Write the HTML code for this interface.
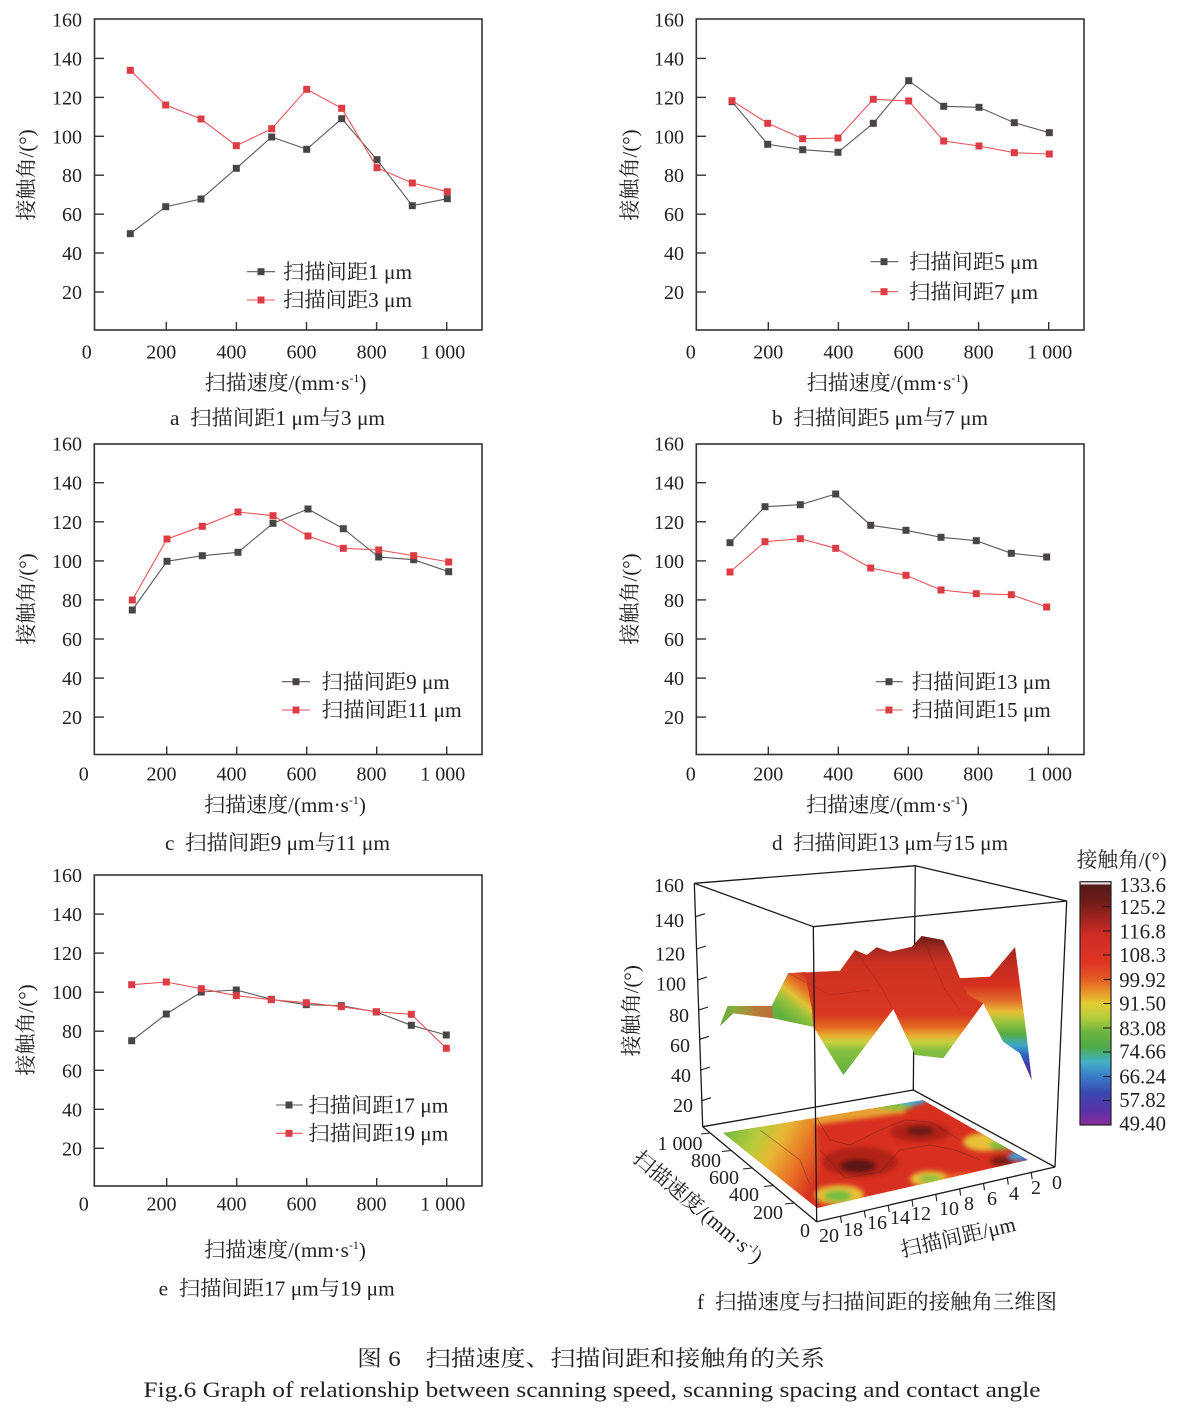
<!DOCTYPE html>
<html><head><meta charset="utf-8"><style>
html,body{margin:0;padding:0;background:#fff;}
svg{display:block;}
text{white-space:pre;}
</style></head><body>
<svg width="1184" height="1418" viewBox="0 0 1184 1418" xmlns="http://www.w3.org/2000/svg" font-family="'Liberation Serif','Noto Serif CJK SC',serif" fill="#222">
<defs>
<rect id="mg" x="-3.5" y="-3.5" width="7" height="7" fill="#4a4545"/>
<rect id="mr" x="-3.5" y="-3.5" width="7" height="7" fill="#dc3c44"/>
<linearGradient id="cb" x1="0" y1="0" x2="0" y2="1">
<stop offset="0" stop-color="#4e1a1a"/><stop offset="0.08" stop-color="#6e1c18"/><stop offset="0.15" stop-color="#a02420"/><stop offset="0.22" stop-color="#d02c24"/><stop offset="0.33" stop-color="#de3426"/><stop offset="0.40" stop-color="#e45a24"/><stop offset="0.45" stop-color="#e8902a"/><stop offset="0.50" stop-color="#e4cc34"/><stop offset="0.56" stop-color="#b4cc3c"/><stop offset="0.62" stop-color="#6cb440"/><stop offset="0.68" stop-color="#4eaa48"/><stop offset="0.74" stop-color="#44b0c8"/><stop offset="0.80" stop-color="#3a7cc8"/><stop offset="0.87" stop-color="#3a46b0"/><stop offset="0.94" stop-color="#5a32a8"/><stop offset="1" stop-color="#8a2a9a"/>
</linearGradient>
<linearGradient id="gm" gradientUnits="userSpaceOnUse" x1="0" y1="936" x2="0" y2="1078">
<stop offset="0" stop-color="#6a1c14"/><stop offset="0.085" stop-color="#a02820"/><stop offset="0.183" stop-color="#cc3020"/><stop offset="0.556" stop-color="#d83822"/><stop offset="0.64" stop-color="#e36a22"/><stop offset="0.704" stop-color="#e8b032"/><stop offset="0.746" stop-color="#c8d040"/><stop offset="0.803" stop-color="#88c040"/><stop offset="1" stop-color="#5caa3c"/>
</linearGradient>
<linearGradient id="gr" gradientUnits="userSpaceOnUse" x1="0" y1="947" x2="0" y2="1080">
<stop offset="0" stop-color="#a82820"/><stop offset="0.286" stop-color="#d83020"/><stop offset="0.398" stop-color="#e06828"/><stop offset="0.489" stop-color="#e8c038"/><stop offset="0.564" stop-color="#98c440"/><stop offset="0.654" stop-color="#58ac40"/><stop offset="0.737" stop-color="#40a8c8"/><stop offset="0.812" stop-color="#3064c0"/><stop offset="0.91" stop-color="#4a32a8"/><stop offset="1" stop-color="#7a2c9c"/>
</linearGradient>
<linearGradient id="gl" gradientUnits="userSpaceOnUse" x1="720" y1="0" x2="773" y2="0">
<stop offset="0" stop-color="#5cae3c"/><stop offset="0.3" stop-color="#8ca83c"/><stop offset="0.7" stop-color="#b87a3a"/><stop offset="1" stop-color="#b8703a"/>
</linearGradient>
<linearGradient id="gs" gradientUnits="userSpaceOnUse" x1="778" y1="1012" x2="806" y2="976">
<stop offset="0" stop-color="#64b040"/><stop offset="0.3" stop-color="#98c23c"/><stop offset="0.5" stop-color="#e0c436"/><stop offset="0.72" stop-color="#e67a28"/><stop offset="1" stop-color="#d43422"/>
</linearGradient>
<linearGradient id="gf" gradientUnits="userSpaceOnUse" x1="725" y1="1128" x2="818" y2="1180">
<stop offset="0" stop-color="#70b840"/><stop offset="0.3" stop-color="#b8cc3c"/><stop offset="0.5" stop-color="#e8b834"/><stop offset="0.75" stop-color="#e87428"/><stop offset="1" stop-color="#d83020"/>
</linearGradient>
<clipPath id="fc"><polygon points="723,1133 923,1100 1028,1160 817,1208"/></clipPath>
<filter id="bl" x="-10%" y="-10%" width="120%" height="120%"><feGaussianBlur stdDeviation="2.5"/></filter>
</defs>

<!-- ============ Panel a ============ -->
<g>
<rect x="94.5" y="19" width="387.5" height="311" fill="none" stroke="#333" stroke-width="1.6"/>
<g stroke="#333" stroke-width="1.4">
<line x1="94.5" y1="292" x2="104" y2="292"/><line x1="94.5" y1="253" x2="104" y2="253"/><line x1="94.5" y1="214.2" x2="104" y2="214.2"/><line x1="94.5" y1="175.2" x2="104" y2="175.2"/><line x1="94.5" y1="136.3" x2="104" y2="136.3"/><line x1="94.5" y1="97.4" x2="104" y2="97.4"/><line x1="94.5" y1="58.4" x2="104" y2="58.4"/>
<line x1="166.3" y1="330" x2="166.3" y2="322"/><line x1="236.4" y1="330" x2="236.4" y2="322"/><line x1="306.5" y1="330" x2="306.5" y2="322"/><line x1="376.6" y1="330" x2="376.6" y2="322"/><line x1="446.7" y1="330" x2="446.7" y2="322"/>
</g>
<g font-size="20" text-anchor="end">
<text x="82" y="26.5">160</text><text x="82" y="65.4">140</text><text x="82" y="104.4">120</text><text x="82" y="143.3">100</text><text x="82" y="182.2">80</text><text x="82" y="221.2">60</text><text x="82" y="260">40</text><text x="82" y="299">20</text>
</g>
<g font-size="20" text-anchor="middle">
<text x="86.7" y="358.7">0</text><text x="161.3" y="358.7">200</text><text x="231.4" y="358.7">400</text><text x="301.5" y="358.7">600</text><text x="371.6" y="358.7">800</text><text x="442.7" y="358.7">1 000</text>
</g>
<polyline fill="none" stroke="#5a5a5a" stroke-width="1.1" points="130.3,233.7 165.7,206.7 201,199 236.3,168.3 271.7,137 306.7,149.3 341.7,118.7 377,159.7 412.3,205.7 447.3,198.7"/>
<use href="#mg" x="130.3" y="233.7"/><use href="#mg" x="165.7" y="206.7"/><use href="#mg" x="201" y="199"/><use href="#mg" x="236.3" y="168.3"/><use href="#mg" x="271.7" y="137"/><use href="#mg" x="306.7" y="149.3"/><use href="#mg" x="341.7" y="118.7"/><use href="#mg" x="377" y="159.7"/><use href="#mg" x="412.3" y="205.7"/><use href="#mg" x="447.3" y="198.7"/>
<polyline fill="none" stroke="#e8555a" stroke-width="1.1" points="130.3,70.3 165.7,105 201,119 236.3,145.7 271.7,128.7 306.7,89.3 341.7,108.3 377,167.7 412.3,183 447.3,191.7"/>
<use href="#mr" x="130.3" y="70.3"/><use href="#mr" x="165.7" y="105"/><use href="#mr" x="201" y="119"/><use href="#mr" x="236.3" y="145.7"/><use href="#mr" x="271.7" y="128.7"/><use href="#mr" x="306.7" y="89.3"/><use href="#mr" x="341.7" y="108.3"/><use href="#mr" x="377" y="167.7"/><use href="#mr" x="412.3" y="183"/><use href="#mr" x="447.3" y="191.7"/>
<line x1="247" y1="271.7" x2="275" y2="271.7" stroke="#5a5a5a" stroke-width="1.1"/><use href="#mg" x="261" y="271.7"/>
<line x1="247" y1="300" x2="275" y2="300" stroke="#e8555a" stroke-width="1.1"/><use href="#mr" x="261" y="300"/>
<text x="283" y="279" font-size="21" textLength="129" lengthAdjust="spacingAndGlyphs">扫描间距1 μm</text>
<text x="283" y="307" font-size="21" textLength="129" lengthAdjust="spacingAndGlyphs">扫描间距3 μm</text>
<text transform="translate(26.7,175) rotate(-90)" x="0" y="7" font-size="21" text-anchor="middle">接触角/(°)</text>
<text x="285.5" y="390" font-size="21" text-anchor="middle">扫描速度/(mm·s<tspan dy="-8" font-size="12">-1</tspan><tspan dy="8">)</tspan></text>
<text x="277.5" y="425" font-size="21" text-anchor="middle" textLength="215" lengthAdjust="spacingAndGlyphs">a  扫描间距1 μm与3 μm</text>
</g>

<!-- ============ Panel b ============ -->
<g>
<rect x="696.3" y="19" width="387.7" height="311" fill="none" stroke="#333" stroke-width="1.6"/>
<g stroke="#333" stroke-width="1.4">
<line x1="696.3" y1="292" x2="706" y2="292"/><line x1="696.3" y1="253" x2="706" y2="253"/><line x1="696.3" y1="214.2" x2="706" y2="214.2"/><line x1="696.3" y1="175.2" x2="706" y2="175.2"/><line x1="696.3" y1="136.3" x2="706" y2="136.3"/><line x1="696.3" y1="97.4" x2="706" y2="97.4"/><line x1="696.3" y1="58.4" x2="706" y2="58.4"/>
<line x1="768.3" y1="330" x2="768.3" y2="322"/><line x1="838.4" y1="330" x2="838.4" y2="322"/><line x1="908.5" y1="330" x2="908.5" y2="322"/><line x1="978.6" y1="330" x2="978.6" y2="322"/><line x1="1048.7" y1="330" x2="1048.7" y2="322"/>
</g>
<g font-size="20" text-anchor="end">
<text x="684" y="26.5">160</text><text x="684" y="65.4">140</text><text x="684" y="104.4">120</text><text x="684" y="143.3">100</text><text x="684" y="182.2">80</text><text x="684" y="221.2">60</text><text x="684" y="260">40</text><text x="684" y="299">20</text>
</g>
<g font-size="20" text-anchor="middle">
<text x="690.8" y="358.7">0</text><text x="768.3" y="358.7">200</text><text x="838.4" y="358.7">400</text><text x="908.5" y="358.7">600</text><text x="978.6" y="358.7">800</text><text x="1049.7" y="358.7">1 000</text>
</g>
<polyline fill="none" stroke="#5a5a5a" stroke-width="1.1" points="732,101.7 767.7,144.3 802.7,149.7 838,152.3 873.3,123.3 908.7,80.7 943.7,106.3 979,107.3 1014.3,122.7 1049.3,132.7"/>
<use href="#mg" x="732" y="101.7"/><use href="#mg" x="767.7" y="144.3"/><use href="#mg" x="802.7" y="149.7"/><use href="#mg" x="838" y="152.3"/><use href="#mg" x="873.3" y="123.3"/><use href="#mg" x="908.7" y="80.7"/><use href="#mg" x="943.7" y="106.3"/><use href="#mg" x="979" y="107.3"/><use href="#mg" x="1014.3" y="122.7"/><use href="#mg" x="1049.3" y="132.7"/>
<polyline fill="none" stroke="#e8555a" stroke-width="1.1" points="732,100.7 767.7,123.3 802.7,138.7 838,138 873.3,99.3 908.7,101 943.7,141 979,146 1014.3,152.7 1049.3,154"/>
<use href="#mr" x="732" y="100.7"/><use href="#mr" x="767.7" y="123.3"/><use href="#mr" x="802.7" y="138.7"/><use href="#mr" x="838" y="138"/><use href="#mr" x="873.3" y="99.3"/><use href="#mr" x="908.7" y="101"/><use href="#mr" x="943.7" y="141"/><use href="#mr" x="979" y="146"/><use href="#mr" x="1014.3" y="152.7"/><use href="#mr" x="1049.3" y="154"/>
<line x1="870.7" y1="261.7" x2="898" y2="261.7" stroke="#5a5a5a" stroke-width="1.1"/><use href="#mg" x="884" y="261.7"/>
<line x1="870.7" y1="291.7" x2="898" y2="291.7" stroke="#e8555a" stroke-width="1.1"/><use href="#mr" x="884" y="291.7"/>
<text x="909" y="269" font-size="21" textLength="129" lengthAdjust="spacingAndGlyphs">扫描间距5 μm</text>
<text x="909" y="299" font-size="21" textLength="129" lengthAdjust="spacingAndGlyphs">扫描间距7 μm</text>
<text transform="translate(630,175) rotate(-90)" x="0" y="7" font-size="21" text-anchor="middle">接触角/(°)</text>
<text x="887.5" y="390" font-size="21" text-anchor="middle">扫描速度/(mm·s<tspan dy="-8" font-size="12">-1</tspan><tspan dy="8">)</tspan></text>
<text x="880" y="425" font-size="21" text-anchor="middle" textLength="216" lengthAdjust="spacingAndGlyphs">b  扫描间距5 μm与7 μm</text>
</g>

<!-- ============ Panel c ============ -->
<g>
<rect x="94.3" y="444" width="387.7" height="310.5" fill="none" stroke="#333" stroke-width="1.6"/>
<g stroke="#333" stroke-width="1.4">
<line x1="94.3" y1="717.1" x2="104" y2="717.1"/><line x1="94.3" y1="678.1" x2="104" y2="678.1"/><line x1="94.3" y1="639" x2="104" y2="639"/><line x1="94.3" y1="599.9" x2="104" y2="599.9"/><line x1="94.3" y1="560.9" x2="104" y2="560.9"/><line x1="94.3" y1="521.8" x2="104" y2="521.8"/><line x1="94.3" y1="482.7" x2="104" y2="482.7"/>
<line x1="166.7" y1="754.5" x2="166.7" y2="746.5"/><line x1="236.7" y1="754.5" x2="236.7" y2="746.5"/><line x1="306.7" y1="754.5" x2="306.7" y2="746.5"/><line x1="376.7" y1="754.5" x2="376.7" y2="746.5"/><line x1="446.7" y1="754.5" x2="446.7" y2="746.5"/>
</g>
<g font-size="20" text-anchor="end">
<text x="82" y="450.7">160</text><text x="82" y="489.7">140</text><text x="82" y="528.8">120</text><text x="82" y="567.9">100</text><text x="82" y="606.9">80</text><text x="82" y="646">60</text><text x="82" y="685.1">40</text><text x="82" y="724.1">20</text>
</g>
<g font-size="20" text-anchor="middle">
<text x="83.8" y="780.3">0</text><text x="161.5" y="780.3">200</text><text x="231.5" y="780.3">400</text><text x="301.5" y="780.3">600</text><text x="371.5" y="780.3">800</text><text x="442.7" y="780.3">1 000</text>
</g>
<polyline fill="none" stroke="#5a5a5a" stroke-width="1.1" points="132.3,610 167,561.3 202.3,555.7 238,552.3 273,523.3 308,509 343.3,528.7 378.7,557 413.7,559.7 448.7,571.7"/>
<use href="#mg" x="132.3" y="610"/><use href="#mg" x="167" y="561.3"/><use href="#mg" x="202.3" y="555.7"/><use href="#mg" x="238" y="552.3"/><use href="#mg" x="273" y="523.3"/><use href="#mg" x="308" y="509"/><use href="#mg" x="343.3" y="528.7"/><use href="#mg" x="378.7" y="557"/><use href="#mg" x="413.7" y="559.7"/><use href="#mg" x="448.7" y="571.7"/>
<polyline fill="none" stroke="#e8555a" stroke-width="1.1" points="132.3,600 167,539 202.3,526.3 238,512 273,515.7 308,536 343.3,548.3 378.7,550 413.7,555.7 448.7,562"/>
<use href="#mr" x="132.3" y="600"/><use href="#mr" x="167" y="539"/><use href="#mr" x="202.3" y="526.3"/><use href="#mr" x="238" y="512"/><use href="#mr" x="273" y="515.7"/><use href="#mr" x="308" y="536"/><use href="#mr" x="343.3" y="548.3"/><use href="#mr" x="378.7" y="550"/><use href="#mr" x="413.7" y="555.7"/><use href="#mr" x="448.7" y="562"/>
<line x1="281.7" y1="681.7" x2="310" y2="681.7" stroke="#5a5a5a" stroke-width="1.1"/><use href="#mg" x="296" y="681.7"/>
<line x1="281.7" y1="710" x2="310" y2="710" stroke="#e8555a" stroke-width="1.1"/><use href="#mr" x="296" y="710"/>
<text x="321.7" y="689" font-size="21" textLength="128" lengthAdjust="spacingAndGlyphs">扫描间距9 μm</text>
<text x="321.7" y="717" font-size="21" textLength="140" lengthAdjust="spacingAndGlyphs">扫描间距11 μm</text>
<text transform="translate(26.5,599) rotate(-90)" x="0" y="7" font-size="21" text-anchor="middle">接触角/(°)</text>
<text x="285" y="812" font-size="21" text-anchor="middle">扫描速度/(mm·s<tspan dy="-8" font-size="12">-1</tspan><tspan dy="8">)</tspan></text>
<text x="277.5" y="850" font-size="21" text-anchor="middle" textLength="225" lengthAdjust="spacingAndGlyphs">c  扫描间距9 μm与11 μm</text>
</g>

<!-- ============ Panel d ============ -->
<g>
<rect x="696.3" y="444" width="387.7" height="310.5" fill="none" stroke="#333" stroke-width="1.6"/>
<g stroke="#333" stroke-width="1.4">
<line x1="696.3" y1="717.1" x2="706" y2="717.1"/><line x1="696.3" y1="678.1" x2="706" y2="678.1"/><line x1="696.3" y1="639" x2="706" y2="639"/><line x1="696.3" y1="599.9" x2="706" y2="599.9"/><line x1="696.3" y1="560.9" x2="706" y2="560.9"/><line x1="696.3" y1="521.8" x2="706" y2="521.8"/><line x1="696.3" y1="482.7" x2="706" y2="482.7"/>
<line x1="768.3" y1="754.5" x2="768.3" y2="746.5"/><line x1="838.3" y1="754.5" x2="838.3" y2="746.5"/><line x1="908.3" y1="754.5" x2="908.3" y2="746.5"/><line x1="978.3" y1="754.5" x2="978.3" y2="746.5"/><line x1="1048.3" y1="754.5" x2="1048.3" y2="746.5"/>
</g>
<g font-size="20" text-anchor="end">
<text x="684" y="450.7">160</text><text x="684" y="489.7">140</text><text x="684" y="528.8">120</text><text x="684" y="567.9">100</text><text x="684" y="606.9">80</text><text x="684" y="646">60</text><text x="684" y="685.1">40</text><text x="684" y="724.1">20</text>
</g>
<g font-size="20" text-anchor="middle">
<text x="690.8" y="780.3">0</text><text x="768.3" y="780.3">200</text><text x="838.3" y="780.3">400</text><text x="908.3" y="780.3">600</text><text x="978.3" y="780.3">800</text><text x="1049.5" y="780.3">1 000</text>
</g>
<polyline fill="none" stroke="#5a5a5a" stroke-width="1.1" points="730,542.7 765,506.7 800.3,504.7 835.7,494 870.7,525.3 906,530.3 941,537.3 976.3,540.7 1011.3,553.3 1046.7,557"/>
<use href="#mg" x="730" y="542.7"/><use href="#mg" x="765" y="506.7"/><use href="#mg" x="800.3" y="504.7"/><use href="#mg" x="835.7" y="494"/><use href="#mg" x="870.7" y="525.3"/><use href="#mg" x="906" y="530.3"/><use href="#mg" x="941" y="537.3"/><use href="#mg" x="976.3" y="540.7"/><use href="#mg" x="1011.3" y="553.3"/><use href="#mg" x="1046.7" y="557"/>
<polyline fill="none" stroke="#e8555a" stroke-width="1.1" points="730,572 765,541.7 800.3,538.7 835.7,548.3 870.7,568 906,575.3 941,590 976.3,593.7 1011.3,594.7 1046.7,607"/>
<use href="#mr" x="730" y="572"/><use href="#mr" x="765" y="541.7"/><use href="#mr" x="800.3" y="538.7"/><use href="#mr" x="835.7" y="548.3"/><use href="#mr" x="870.7" y="568"/><use href="#mr" x="906" y="575.3"/><use href="#mr" x="941" y="590"/><use href="#mr" x="976.3" y="593.7"/><use href="#mr" x="1011.3" y="594.7"/><use href="#mr" x="1046.7" y="607"/>
<line x1="876" y1="681.7" x2="902.7" y2="681.7" stroke="#5a5a5a" stroke-width="1.1"/><use href="#mg" x="889" y="681.7"/>
<line x1="876" y1="710" x2="902.7" y2="710" stroke="#e8555a" stroke-width="1.1"/><use href="#mr" x="889" y="710"/>
<text x="911.7" y="689" font-size="21" textLength="139" lengthAdjust="spacingAndGlyphs">扫描间距13 μm</text>
<text x="911.7" y="717" font-size="21" textLength="139" lengthAdjust="spacingAndGlyphs">扫描间距15 μm</text>
<text transform="translate(630,599) rotate(-90)" x="0" y="7" font-size="21" text-anchor="middle">接触角/(°)</text>
<text x="887" y="812" font-size="21" text-anchor="middle">扫描速度/(mm·s<tspan dy="-8" font-size="12">-1</tspan><tspan dy="8">)</tspan></text>
<text x="890" y="850" font-size="21" text-anchor="middle" textLength="236" lengthAdjust="spacingAndGlyphs">d  扫描间距13 μm与15 μm</text>
</g>

<!-- ============ Panel e ============ -->
<g>
<rect x="94.3" y="875" width="387.7" height="311" fill="none" stroke="#333" stroke-width="1.6"/>
<g stroke="#333" stroke-width="1.4">
<line x1="94.3" y1="1148.3" x2="104" y2="1148.3"/><line x1="94.3" y1="1109.3" x2="104" y2="1109.3"/><line x1="94.3" y1="1070.3" x2="104" y2="1070.3"/><line x1="94.3" y1="1031.2" x2="104" y2="1031.2"/><line x1="94.3" y1="992.2" x2="104" y2="992.2"/><line x1="94.3" y1="953.1" x2="104" y2="953.1"/><line x1="94.3" y1="914.1" x2="104" y2="914.1"/>
<line x1="166.7" y1="1186" x2="166.7" y2="1178"/><line x1="236.7" y1="1186" x2="236.7" y2="1178"/><line x1="306.7" y1="1186" x2="306.7" y2="1178"/><line x1="376.7" y1="1186" x2="376.7" y2="1178"/><line x1="446.7" y1="1186" x2="446.7" y2="1178"/>
</g>
<g font-size="20" text-anchor="end">
<text x="82" y="882">160</text><text x="82" y="921.1">140</text><text x="82" y="960.1">120</text><text x="82" y="999.2">100</text><text x="82" y="1038.2">80</text><text x="82" y="1077.3">60</text><text x="82" y="1116.3">40</text><text x="82" y="1155.3">20</text>
</g>
<g font-size="20" text-anchor="middle">
<text x="83.8" y="1210.3">0</text><text x="161.5" y="1210.3">200</text><text x="231.5" y="1210.3">400</text><text x="301.5" y="1210.3">600</text><text x="371.5" y="1210.3">800</text><text x="442.7" y="1210.3">1 000</text>
</g>
<polyline fill="none" stroke="#5a5a5a" stroke-width="1.1" points="131.7,1040.7 166.3,1014 201.3,992 236.3,990 271.3,999.3 306.3,1004.7 341.3,1005.7 376.3,1012 411.3,1025.3 446.3,1035"/>
<use href="#mg" x="131.7" y="1040.7"/><use href="#mg" x="166.3" y="1014"/><use href="#mg" x="201.3" y="992"/><use href="#mg" x="236.3" y="990"/><use href="#mg" x="271.3" y="999.3"/><use href="#mg" x="306.3" y="1004.7"/><use href="#mg" x="341.3" y="1005.7"/><use href="#mg" x="376.3" y="1012"/><use href="#mg" x="411.3" y="1025.3"/><use href="#mg" x="446.3" y="1035"/>
<polyline fill="none" stroke="#e8555a" stroke-width="1.1" points="131.7,984.7 166.3,982 201.3,988.7 236.3,995.7 271.3,999.7 306.3,1002.7 341.3,1006.7 376.3,1011.7 411.3,1014.3 446.3,1048.3"/>
<use href="#mr" x="131.7" y="984.7"/><use href="#mr" x="166.3" y="982"/><use href="#mr" x="201.3" y="988.7"/><use href="#mr" x="236.3" y="995.7"/><use href="#mr" x="271.3" y="999.7"/><use href="#mr" x="306.3" y="1002.7"/><use href="#mr" x="341.3" y="1006.7"/><use href="#mr" x="376.3" y="1011.7"/><use href="#mr" x="411.3" y="1014.3"/><use href="#mr" x="446.3" y="1048.3"/>
<line x1="276" y1="1105" x2="302.7" y2="1105" stroke="#5a5a5a" stroke-width="1.1"/><use href="#mg" x="289" y="1105"/>
<line x1="276" y1="1133.3" x2="302.7" y2="1133.3" stroke="#e8555a" stroke-width="1.1"/><use href="#mr" x="289" y="1133.3"/>
<text x="308.3" y="1112.3" font-size="21" textLength="140" lengthAdjust="spacingAndGlyphs">扫描间距17 μm</text>
<text x="308.3" y="1140.6" font-size="21" textLength="140" lengthAdjust="spacingAndGlyphs">扫描间距19 μm</text>
<text transform="translate(26,1030) rotate(-90)" x="0" y="7" font-size="21" text-anchor="middle">接触角/(°)</text>
<text x="285" y="1257" font-size="21" text-anchor="middle">扫描速度/(mm·s<tspan dy="-8" font-size="12">-1</tspan><tspan dy="8">)</tspan></text>
<text x="276.7" y="1295.3" font-size="21" text-anchor="middle" textLength="236" lengthAdjust="spacingAndGlyphs">e  扫描间距17 μm与19 μm</text>
</g>

<!-- ============ Panel f (3D) ============ -->
<g>
<g clip-path="url(#fc)">
<polygon points="723,1133 923,1100 1028,1160 817,1208" fill="#d83020"/>
<g filter="url(#bl)">
<polygon points="705,1120 812,1100 825,1215 700,1220" fill="url(#gf)"/>
<polygon points="812,1100 900,1094 906,1113 860,1119 815,1125" fill="#e8a030"/>
<ellipse cx="895" cy="1104" rx="20" ry="6" fill="#80c040"/>
<ellipse cx="913" cy="1100" rx="13" ry="5" fill="#40a8d8"/>
<ellipse cx="860" cy="1162" rx="38" ry="15" fill="#b02418"/>
<ellipse cx="858" cy="1166" rx="18" ry="7" fill="#5a1414"/>
<ellipse cx="920" cy="1132" rx="30" ry="10" fill="#b02418"/>
<ellipse cx="920" cy="1131" rx="14" ry="5" fill="#6a1a16"/>
<ellipse cx="985" cy="1142" rx="22" ry="9" fill="#e8c038"/>
<ellipse cx="1000" cy="1145" rx="11" ry="5" fill="#80c040"/>
<ellipse cx="1003" cy="1161" rx="13" ry="5" fill="#7a1c16"/>
<ellipse cx="1019" cy="1156" rx="10" ry="4" fill="#40a0d8"/>
<ellipse cx="1026" cy="1160" rx="5" ry="3" fill="#4050c0"/>
<ellipse cx="840" cy="1195" rx="24" ry="10" fill="#e8c038"/>
<ellipse cx="838" cy="1196" rx="14" ry="6" fill="#78bc40"/>
<ellipse cx="930" cy="1179" rx="20" ry="8" fill="#e8c038"/>
<ellipse cx="930" cy="1179" rx="11" ry="4" fill="#88c040"/>
<ellipse cx="965" cy="1180" rx="22" ry="7" fill="#e86828"/>
</g>
<g fill="none" stroke="#5a2a20" stroke-width="0.7" opacity="0.55">
<polyline points="812,1110 830,1140 850,1145 880,1130 905,1120 930,1122 960,1140"/>
<polyline points="820,1150 845,1178 880,1172 900,1150 930,1145 955,1150 980,1160"/>
<polyline points="760,1130 780,1145 800,1160 810,1185"/>
</g>
</g>
<g stroke="#1a1a1a" stroke-width="1.3" fill="none">
<line x1="694.3" y1="883.3" x2="915.3" y2="865.7"/>
<line x1="915.3" y1="865.7" x2="1066.7" y2="901"/>
<line x1="915.3" y1="865.7" x2="913.3" y2="1090"/>
<line x1="702.7" y1="1126.7" x2="913.3" y2="1090"/>
<line x1="913.3" y1="1090" x2="1055" y2="1167"/>
<line x1="694.3" y1="883.3" x2="702.7" y2="1126.7"/>
<line x1="1066.7" y1="901" x2="1055" y2="1167"/>
</g>
<polygon points="720,1026 727.7,1006 771.7,1006 788.3,973.3 840,970.7 855,950 866.7,955 876.7,947.3 890,951.7 911.7,946.7 921.7,936 943.3,940 951.7,956.7 960,978.3 990,976.7 1015,947.3 1026.7,1036.7 1031.7,1080 1020,1053.3 1003.3,1041.7 983.3,1003.3 943.3,1058.3 915,1055 893.3,1009.3 843.3,1075 813.3,1026.7 773.3,1018.3 733.3,1013.3" fill="url(#gm)"/>
<polygon points="960,978.3 990,976.7 1015,947.3 1026.7,1036.7 1031.7,1080 1020,1053.3 1003.3,1041.7 983.3,1003.3 968,995" fill="url(#gr)"/>
<polygon points="720,1026 727.7,1006 771.7,1006 773.3,1018.3 733.3,1013.3" fill="url(#gl)"/>
<polygon points="771.7,1006 788.3,973.3 805,972 812,1010 813.3,1026.7 773.3,1018.3" fill="url(#gs)"/>
<g fill="none" stroke="#5a1a10" stroke-width="0.6" opacity="0.35">
<polyline points="855,950 880,985 893,1009"/>
<polyline points="921.7,936 945,990 960,1010"/>
<polyline points="788,973 830,995 870,990"/>
</g>
<g stroke="#1a1a1a" stroke-width="1.3" fill="none">
<line x1="694.3" y1="883.3" x2="813.3" y2="926.7"/>
<line x1="813.3" y1="926.7" x2="1066.7" y2="901"/>
<line x1="813.3" y1="926.7" x2="816.7" y2="1221.7"/>
<line x1="702.7" y1="1126.7" x2="816.7" y2="1221.7"/>
<line x1="816.7" y1="1221.7" x2="1055" y2="1167"/>
</g>
<g stroke="#1a1a1a" stroke-width="1.1">
<line x1="695.5" y1="916.7" x2="705" y2="913.7"/><line x1="696.6" y1="949" x2="706" y2="946"/><line x1="697.7" y1="980" x2="707" y2="977"/><line x1="698.7" y1="1010" x2="708" y2="1007"/><line x1="699.7" y1="1039.3" x2="709" y2="1036.3"/><line x1="700.8" y1="1070" x2="710" y2="1067"/><line x1="701.8" y1="1100.7" x2="711" y2="1097.7"/>
</g>
<g stroke="#1a1a1a" stroke-width="1.1">
<line x1="710" y1="1133" x2="701" y2="1134"/><line x1="731" y1="1150.5" x2="722" y2="1151.5"/><line x1="752" y1="1168" x2="743" y2="1169"/><line x1="773" y1="1185.5" x2="764" y2="1186.5"/><line x1="794" y1="1203" x2="785" y2="1204"/>
</g>
<g stroke="#1a1a1a" stroke-width="1.1">
<line x1="840.5" y1="1216.2" x2="841.5" y2="1223"/><line x1="864.4" y1="1210.8" x2="865.4" y2="1217.6"/><line x1="888.2" y1="1205.3" x2="889.2" y2="1212.1"/><line x1="912" y1="1199.8" x2="913" y2="1206.6"/><line x1="935.8" y1="1194.4" x2="936.8" y2="1201.2"/><line x1="959.7" y1="1188.9" x2="960.7" y2="1195.7"/><line x1="983.5" y1="1183.4" x2="984.5" y2="1190.2"/><line x1="1007.3" y1="1177.9" x2="1008.3" y2="1184.7"/><line x1="1031.2" y1="1172.5" x2="1032.2" y2="1179.3"/>
</g>
<g font-size="20" text-anchor="end">
<text x="684" y="892">160</text><text x="684" y="927">140</text><text x="685" y="960.5">120</text><text x="686" y="990.5">100</text><text x="689" y="1022">80</text><text x="690" y="1052">60</text><text x="691" y="1082">40</text><text x="693" y="1112">20</text>
</g>
<text transform="translate(631.7,1010.8) rotate(-90)" x="0" y="7" font-size="21" text-anchor="middle">接触角/(°)</text>
<g font-size="20" text-anchor="middle">
<text x="680" y="1150">1 000</text><text x="706" y="1167">800</text><text x="724" y="1184">600</text><text x="744" y="1201">400</text><text x="768" y="1219">200</text><text x="805" y="1237">0</text>
</g>
<text transform="translate(698,1207) rotate(40)" x="0" y="7" font-size="21" text-anchor="middle">扫描速度/(mm·s<tspan dy="-8" font-size="12">-1</tspan><tspan dy="8">)</tspan></text>
<g font-size="20" text-anchor="middle">
<text x="829" y="1242">20</text><text x="853" y="1236">18</text><text x="877" y="1229">16</text><text x="900" y="1224">14</text><text x="921" y="1220">12</text><text x="949" y="1215">10</text><text x="969" y="1210">8</text><text x="992" y="1205">6</text><text x="1014" y="1200">4</text><text x="1036" y="1194">2</text><text x="1057" y="1189">0</text>
</g>
<text transform="translate(958,1237) rotate(-13)" x="0" y="7" font-size="21" text-anchor="middle">扫描间距/μm</text>
<rect x="1080" y="881.7" width="31" height="243.3" fill="url(#cb)" stroke="#222" stroke-width="1.2"/>
<rect x="1080.6" y="882.3" width="29.8" height="2.2" fill="#e8e0e0"/>
<g stroke="#222" stroke-width="1.1">
<line x1="1103" y1="906.7" x2="1111" y2="906.7"/><line x1="1103" y1="931" x2="1111" y2="931"/><line x1="1103" y1="955" x2="1111" y2="955"/><line x1="1103" y1="979.5" x2="1111" y2="979.5"/><line x1="1103" y1="1003.5" x2="1111" y2="1003.5"/><line x1="1103" y1="1028" x2="1111" y2="1028"/><line x1="1103" y1="1052" x2="1111" y2="1052"/><line x1="1103" y1="1076.5" x2="1111" y2="1076.5"/><line x1="1103" y1="1100.5" x2="1111" y2="1100.5"/>
</g>
<g font-size="21">
<text x="1119.3" y="892" textLength="46.7" lengthAdjust="spacingAndGlyphs">133.6</text>
<text x="1119.3" y="914" textLength="46.7" lengthAdjust="spacingAndGlyphs">125.2</text>
<text x="1119.3" y="938.7" textLength="46.7" lengthAdjust="spacingAndGlyphs">116.8</text>
<text x="1119.3" y="962" textLength="46.7" lengthAdjust="spacingAndGlyphs">108.3</text>
<text x="1119.3" y="987" textLength="46.7" lengthAdjust="spacingAndGlyphs">99.92</text>
<text x="1119.3" y="1010.3" textLength="46.7" lengthAdjust="spacingAndGlyphs">91.50</text>
<text x="1119.3" y="1035.3" textLength="46.7" lengthAdjust="spacingAndGlyphs">83.08</text>
<text x="1119.3" y="1058.7" textLength="46.7" lengthAdjust="spacingAndGlyphs">74.66</text>
<text x="1119.3" y="1083.7" textLength="46.7" lengthAdjust="spacingAndGlyphs">66.24</text>
<text x="1119.3" y="1107" textLength="46.7" lengthAdjust="spacingAndGlyphs">57.82</text>
<text x="1119.3" y="1130.3" textLength="46.7" lengthAdjust="spacingAndGlyphs">49.40</text>
</g>
<text x="1121.7" y="867" font-size="21" text-anchor="middle" textLength="90" lengthAdjust="spacingAndGlyphs">接触角/(°)</text>
<text x="877" y="1309" font-size="21" text-anchor="middle" textLength="360" lengthAdjust="spacingAndGlyphs">f  扫描速度与扫描间距的接触角三维图</text>
</g>

<text x="591" y="1366" font-size="22" text-anchor="middle" textLength="468" lengthAdjust="spacingAndGlyphs">图 6　扫描速度、扫描间距和接触角的关系</text>
<text x="592" y="1397" font-size="22" text-anchor="middle" textLength="897" lengthAdjust="spacingAndGlyphs">Fig.6 Graph of relationship between scanning speed, scanning spacing and contact angle</text>
</svg>
</body></html>
